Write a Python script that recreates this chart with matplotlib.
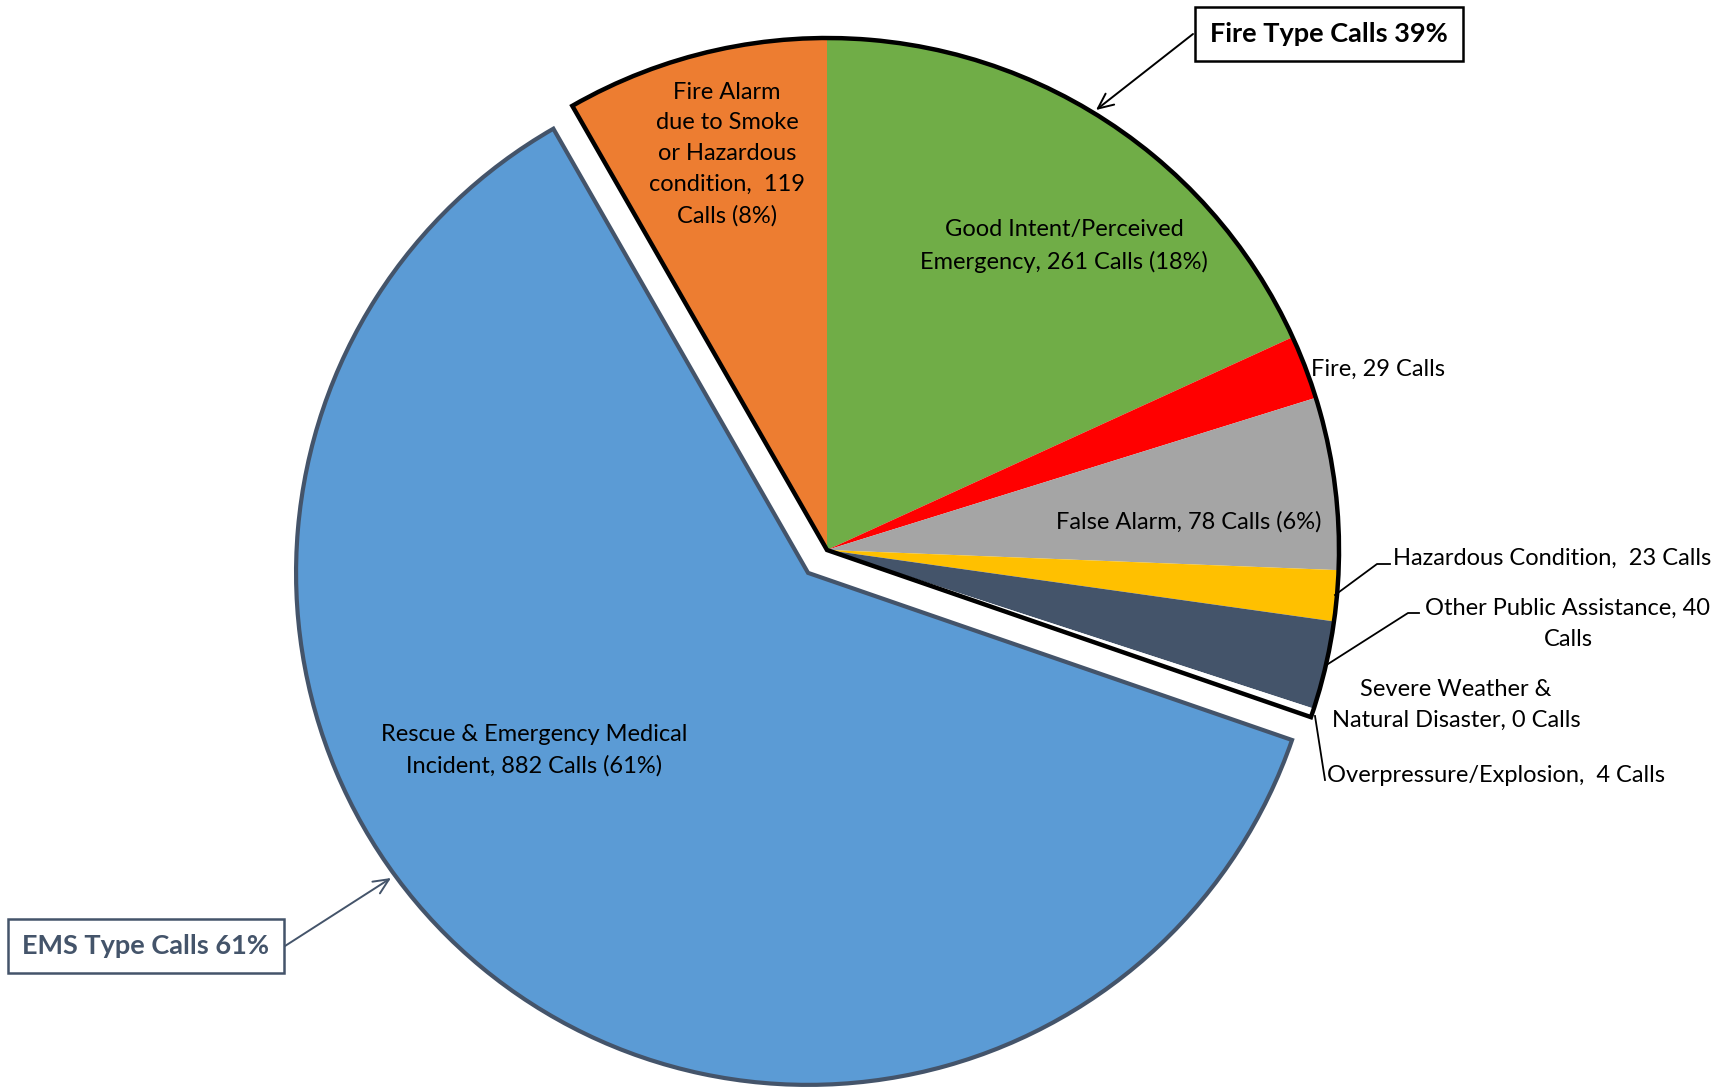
import numpy as np
import matplotlib.pyplot as plt
from matplotlib.patches import Wedge

plt.rcParams['font.family'] = ['Lato', 'DejaVu Sans']

# call counts, clockwise from 12 o'clock
categories = ['Good Intent/Perceived Emergency', 'Fire', 'False Alarm',
              'Hazardous Condition', 'Other Public Assistance',
              'Severe Weather & Natural Disaster', 'Overpressure/Explosion',
              'Rescue & Emergency Medical Incident',
              'Fire Alarm due to Smoke or Hazardous condition']
calls = [261, 29, 78, 23, 40, 0, 4, 882, 119]
pct_shown = [18, None, 6, None, None, None, None, 61, 8]   # as printed on the chart
colors = ['#70ad47', '#ff0000', '#a5a5a5', '#ffc000', '#44546a',
          '#ffffff', '#ffffff', '#5b9bd5', '#ed7d31']
ems_index = 7
fire_group = [0, 1, 2, 3, 4, 5, 6, 8]
group_pct = {'Fire': 39, 'EMS': 61}

W, H = 1727, 1089
fig = plt.figure(figsize=(W / 100, H / 100), dpi=100)
ax = fig.add_axes([0, 0, 1, 1])

center = (827, H - 550)
radius = 512
explode = [0.0] * len(calls)
explode[ems_index] = 0.058 * radius   # pie's explode is in data units

wedges, _ = ax.pie(calls, colors=colors, startangle=90, counterclock=False,
                   center=center, radius=radius, explode=explode,
                   wedgeprops=dict(linewidth=0))
wedges[ems_index].set_edgecolor('#44546a')
wedges[ems_index].set_linewidth(3)

# black outline around the fire type group
total = sum(calls)
deg = np.array(calls) / total * 360
end_angle = 90 - deg[:ems_index].sum()
start_angle = 90 + deg[8]
ax.add_patch(Wedge(center, radius, end_angle, start_angle, fill=False,
                   edgecolor='black', linewidth=3.2, zorder=5))

ax.set_xlim(0, W)
ax.set_ylim(0, H)
ax.set_aspect('equal')
ax.axis('off')

fs = 17
def txt(x, y, s, ha='center', **kw):
    ax.text(x, H - y, s, ha=ha, va='center', fontsize=fs, color='black',
            linespacing=1.57, zorder=6, **kw)

txt(727, 154, f"Fire Alarm\ndue to Smoke\nor Hazardous\ncondition,  {calls[8]}\nCalls ({pct_shown[8]}%)")
txt(1064, 246, f"Good Intent/Perceived\nEmergency, {calls[0]} Calls ({pct_shown[0]}%)")
txt(1311, 369, f"Fire, {calls[1]} Calls", ha='left')
txt(1189, 522, f"False Alarm, {calls[2]} Calls ({pct_shown[2]}%)")
txt(1393, 558, f"Hazardous Condition,  {calls[3]} Calls", ha='left')
txt(1568, 624, f"Other Public Assistance, {calls[4]}\nCalls")
txt(1456, 705, f"Severe Weather &\nNatural Disaster, {calls[5]} Calls")
txt(1327, 776, f"Overpressure/Explosion,  {calls[6]} Calls", ha='left')
txt(534, 750, f"Rescue & Emergency Medical\nIncident, {calls[7]} Calls ({pct_shown[7]}%)")

# leader lines
def leader(pts):
    xs = [p[0] for p in pts]
    ys = [H - p[1] for p in pts]
    ax.plot(xs, ys, color='black', lw=1.3, zorder=6)

leader([(1335, 595), (1377, 564), (1390, 564)])
leader([(1328, 664), (1408, 613), (1419, 613)])
leader([(1315, 716), (1325, 780)])

# group call-outs
def callout(s, cx, cy, x0, tip, color):
    ax.text(cx, H - cy, s, ha='center', va='center', fontsize=19.5,
            fontweight='bold', color=color, zorder=7,
            bbox=dict(boxstyle='square,pad=0.55', fc='white', ec=color, lw=1.8))
    ax.annotate('', xy=(tip[0], H - tip[1]), xytext=(x0, H - cy),
                arrowprops=dict(arrowstyle='->,head_length=1.1,head_width=0.5',
                                color=color, lw=1.4, shrinkA=0, shrinkB=0), zorder=6)

callout(f"Fire Type Calls {group_pct['Fire']}%", 1329, 34, 1193, (1096, 110), 'black')
callout(f"EMS Type Calls {group_pct['EMS']}%", 146, 946, 285, (391, 878), '#44546a')

fig.savefig('out.png', dpi=100)
